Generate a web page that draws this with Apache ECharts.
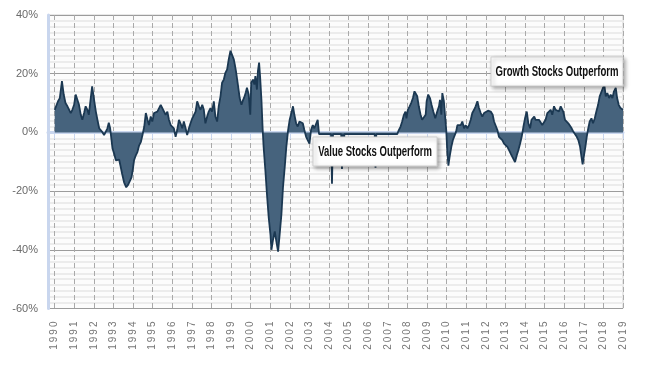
<!DOCTYPE html>
<html><head><meta charset="utf-8">
<script src="https://cdn.jsdelivr.net/npm/echarts@6/dist/echarts.min.js"></script>
<style>html,body{margin:0;padding:0;background:#fff}#c{width:663px;height:372px}</style>
</head><body><div id="c"></div>
<script>
const years = [1990.00,1990.09,1990.17,1990.26,1990.37,1990.46,1990.55,1990.65,1990.73,1990.82,1990.90,1990.99,1991.07,1991.16,1991.24,1991.33,1991.41,1991.50,1991.58,1991.67,1991.74,1991.82,1991.91,1992.01,1992.10,1992.18,1992.27,1992.33,1992.42,1992.52,1992.61,1992.69,1992.76,1992.83,1992.90,1992.95,1993.03,1993.12,1993.20,1993.29,1993.37,1993.44,1993.54,1993.65,1993.75,1993.85,1993.92,1993.99,1994.05,1994.14,1994.22,1994.31,1994.40,1994.48,1994.57,1994.65,1994.73,1994.81,1994.90,1994.98,1995.07,1995.15,1995.24,1995.32,1995.41,1995.49,1995.58,1995.66,1995.75,1995.83,1995.92,1996.00,1996.08,1996.17,1996.25,1996.34,1996.42,1996.51,1996.59,1996.68,1996.76,1996.85,1996.93,1997.02,1997.10,1997.19,1997.27,1997.36,1997.44,1997.53,1997.61,1997.69,1997.78,1997.86,1997.95,1998.03,1998.12,1998.20,1998.29,1998.37,1998.46,1998.54,1998.63,1998.71,1998.80,1998.88,1998.97,1999.05,1999.14,1999.19,1999.25,1999.36,1999.44,1999.53,1999.60,1999.67,1999.75,1999.81,1999.90,1999.98,2000.03,2000.12,2000.19,2000.24,2000.32,2000.37,2000.43,2000.48,2000.55,2000.61,2000.66,2000.75,2000.83,2000.92,2001.01,2001.06,2001.14,2001.23,2001.31,2001.40,2001.48,2001.57,2001.65,2001.74,2001.82,2001.91,2001.99,2002.08,2002.16,2002.23,2002.32,2002.40,2002.49,2002.57,2002.66,2002.74,2002.83,2002.91,2003.00,2003.08,2003.17,2003.25,2003.34,2003.42,2003.49,2004.10,2004.15,2004.20,2004.62,2004.66,2004.70,2004.74,2004.78,2006.33,2006.37,2006.41,2007.48,2007.56,2007.65,2007.73,2007.82,2007.90,2007.95,2008.02,2008.11,2008.19,2008.28,2008.36,2008.43,2008.50,2008.58,2008.67,2008.75,2008.84,2008.93,2008.98,2009.06,2009.15,2009.23,2009.32,2009.42,2009.52,2009.61,2009.66,2009.73,2009.78,2009.86,2009.93,2009.98,2010.03,2010.09,2010.15,2010.24,2010.32,2010.41,2010.48,2010.55,2010.63,2010.72,2010.80,2010.89,2010.97,2011.06,2011.14,2011.23,2011.31,2011.40,2011.48,2011.57,2011.65,2011.74,2011.82,2011.91,2011.99,2012.11,2012.25,2012.35,2012.42,2012.52,2012.59,2012.67,2012.76,2012.84,2012.93,2013.02,2013.10,2013.19,2013.27,2013.36,2013.44,2013.49,2013.58,2013.66,2013.75,2013.83,2013.92,2014.00,2014.09,2014.17,2014.26,2014.33,2014.40,2014.47,2014.54,2014.63,2014.71,2014.80,2014.88,2014.97,2015.05,2015.14,2015.22,2015.31,2015.39,2015.48,2015.56,2015.65,2015.73,2015.82,2015.90,2015.95,2016.04,2016.12,2016.21,2016.29,2016.38,2016.47,2016.55,2016.64,2016.72,2016.81,2016.87,2016.94,2017.01,2017.08,2017.15,2017.21,2017.30,2017.39,2017.47,2017.56,2017.64,2017.73,2017.81,2017.90,2017.98,2018.05,2018.12,2018.20,2018.29,2018.37,2018.46,2018.54,2018.63,2018.70,2018.78,2018.87,2018.94,2019.00];
const values = [7.7,7.1,10.6,11.7,17.5,12.9,10.0,8.9,8.3,6.6,7.7,9.4,12.9,12.3,9.4,6.0,4.3,6.6,8.9,7.7,6.0,10.6,15.7,11.1,7.1,4.3,1.4,2.0,0.2,-0.9,-0.3,1.4,3.3,1.4,-2.6,-5.5,-7.2,-9.5,-10.1,-9.3,-11.8,-14.1,-17.0,-18.7,-17.8,-17.4,-15.3,-12.4,-9.5,-7.8,-6.7,-4.4,-3.2,-0.9,2.0,6.6,4.5,2.5,5.4,3.7,6.6,6.0,7.1,7.7,9.4,10.0,7.1,6.0,7.1,4.3,2.5,2.0,1.4,-1.5,0.8,4.3,3.1,1.4,3.7,1.4,-0.9,1.4,3.1,4.8,5.4,7.1,10.6,8.9,7.7,9.4,7.7,3.1,5.4,7.1,8.3,7.1,10.6,5.4,3.7,8.9,12.3,16.9,18.0,20.3,21.5,24.9,27.8,27.2,24.9,23.2,20.9,15.7,11.7,9.4,10.8,11.9,13.6,15.2,12.9,6.0,16.9,18.0,16.3,19.2,14.6,20.9,23.8,19.2,11.1,1.4,-4.9,-13.0,-21.0,-29.0,-34.8,-40.0,-36.6,-33.7,-37.1,-40.6,-34.8,-27.9,-18.7,-11.8,-4.9,0.8,4.3,6.6,8.9,6.0,3.1,2.0,3.7,4.3,3.1,0.8,-1.5,-2.6,-3.8,0.8,2.5,1.4,0.8,4.3,-0.6,-0.6,-17.5,-0.6,-0.6,-12.5,-0.6,-11.0,-0.6,-0.6,-12.0,-0.6,-0.6,0.8,2.0,3.7,6.0,7.1,4.8,7.7,8.9,10.0,11.7,14.0,14.6,12.3,8.9,6.0,4.3,4.8,6.0,10.6,12.9,11.7,9.4,7.1,4.8,7.1,8.9,11.1,6.0,13.4,10.6,11.1,0.8,-6.1,-11.3,-8.4,-4.9,-2.6,-2.6,0.2,2.5,3.1,2.5,3.7,1.4,2.5,1.4,2.5,4.3,6.6,7.7,8.9,10.6,8.3,6.6,5.4,6.6,7.1,7.4,7.1,6.0,3.7,2.0,0.8,-1.5,-2.1,-2.6,-3.8,-4.4,-4.9,-6.1,-7.2,-8.4,-9.0,-10.1,-7.8,-6.1,-3.8,-1.5,2.0,4.8,7.1,3.1,1.4,4.3,4.8,5.4,4.3,4.8,4.3,4.8,2.5,2.0,4.3,6.6,7.1,7.7,6.0,8.9,7.7,8.3,7.1,8.9,9.1,7.1,4.3,3.7,3.1,2.5,1.4,0.2,-0.3,-1.5,-2.6,-4.9,-7.8,-10.9,-7.8,-4.9,-1.5,0.8,3.7,4.8,3.1,4.8,7.1,9.4,12.3,12.9,15.2,16.0,12.3,13.4,11.7,12.9,11.7,14.0,15.2,11.7,9.4,8.3,8.9,7.7];
const yMin = -60, yMax = 40, yStep = 20;
const xMin = 1990, xMax = 2019, xStep = 1;
const annotations = ['Growth Stocks Outperform', 'Value Stocks Outperform'];

const chart = echarts.init(document.getElementById('c'), null, {renderer: 'canvas'});
const seriesData = years.map((y, i) => [y, values[i]]);
const labelFont = 'Liberation Sans, Arial, sans-serif';

function box(x, y, w, h, text, sx) {
  return [
    {type: 'rect', z: 100, zlevel: 1, shape: {x: x, y: y, width: w, height: h},
     style: {fill: '#ffffff', stroke: '#cfcfcf', lineWidth: 1, shadowBlur: 4, shadowOffsetX: 2, shadowOffsetY: 2, shadowColor: 'rgba(0,0,0,0.35)'}},
    {type: 'text', z: 101, zlevel: 1, x: x + w / 2, y: y + h / 2 + 0.5, scaleX: sx, scaleY: 1,
     style: {text: text, fill: '#111', font: 'bold 14px "Liberation Sans", Arial, sans-serif', textAlign: 'center', textVerticalAlign: 'middle'}}
  ];
}

chart.setOption({
  animation: false,
  backgroundColor: '#fff',
  grid: [
    {left: 48, right: 40, top: 15, bottom: 63.5, show: true, backgroundColor: '#fcfcfc', borderColor: '#d0d0d0', borderWidth: 1},
    {left: 54.7, right: 40, top: 15, bottom: 63.5}
  ],
  xAxis: [
    {gridIndex: 0, type: 'value', min: 0, max: 1, axisLine: {show: true, lineStyle: {color: '#c9d6ee', width: 3}},
     axisTick: {show: false}, axisLabel: {show: false}, splitLine: {show: false}},
    {gridIndex: 1, type: 'value', min: xMin, max: xMax, interval: xStep,
     axisLine: {show: false},
     axisTick: {show: true, length: 7, lineStyle: {color: '#c9d6ee', width: 1}},
     axisLabel: {rotate: 90, margin: 13, color: '#777', fontSize: 10, fontFamily: labelFont,
       formatter: v => String(v).split('').join('\u2009')},
     splitLine: {show: true, lineStyle: {color: '#aaaaaa', type: [5, 3], width: 1}}}
  ],
  yAxis: [
    {gridIndex: 0, type: 'value', min: yMin, max: yMax, interval: yStep,
     axisLine: {show: true, lineStyle: {color: '#c9d6ee', width: 3}},
     axisTick: {show: false},
     axisLabel: {margin: 10, color: '#6a6a6a', fontSize: 11, fontFamily: labelFont, formatter: '{value}%'},
     splitLine: {show: true, lineStyle: {color: '#9c9c9c', width: 1.2}},
     minorTick: {show: false, splitNumber: 10},
     minorSplitLine: {show: true, lineStyle: {color: '#ececec', width: 2}}},
    {gridIndex: 1, type: 'value', min: yMin, max: yMax, interval: yStep, show: false,
     splitLine: {show: false}}
  ],
  series: [{
    type: 'line', xAxisIndex: 1, yAxisIndex: 1, data: seriesData,
    symbol: 'none', smooth: false,
    lineStyle: {color: '#1b3852', width: 1.8},
    areaStyle: {color: '#46637d', opacity: 1, origin: 0},
    z: 5
  }],
  graphic: [].concat(
    box(491, 57, 132, 29, annotations[0], 0.685),
    box(313, 137, 124, 29, annotations[1], 0.68)
  )
});
</script></body></html>
